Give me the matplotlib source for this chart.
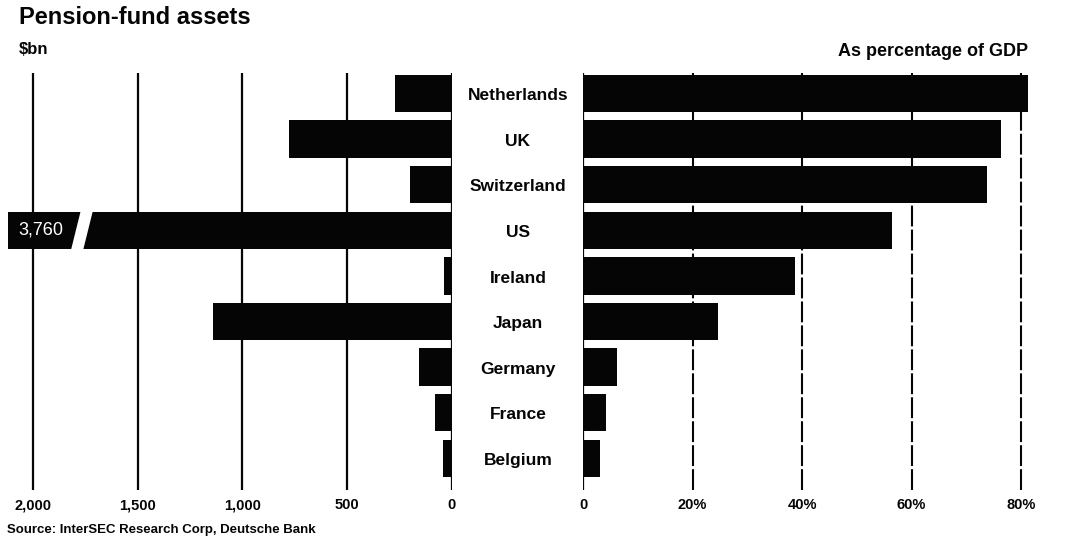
import matplotlib
matplotlib.use("Agg")
import matplotlib.pyplot as plt
from matplotlib.patches import Polygon
from matplotlib.transforms import blended_transform_factory

# Pension-fund assets by country
countries = ["Netherlands", "UK", "Switzerland", "US", "Ireland",
             "Japan", "Germany", "France", "Belgium"]
assets_bn = [272, 778, 200, 3760, 38, 1141, 158, 81, 43]          # $bn
pct_gdp = [81.3, 76.3, 73.8, 56.4, 38.7, 24.7, 6.3, 4.2, 3.1]      # % of GDP

left_ticks = [2000, 1500, 1000, 500, 0]
left_ticklabels = ["2,000", "1,500", "1,000", "500", "0"]
right_ticks = [0, 20, 40, 60, 80]
right_ticklabels = ["0", "20%", "40%", "60%", "80%"]

FONT = "Liberation Sans"
INK = "#050505"

fig = plt.figure(figsize=(10.77, 5.39), dpi=100)
fig.patch.set_facecolor("white")

W, H = 1077.0, 539.0
top_px, bot_px = 73.0, 490.0
axb = (H - bot_px) / H
axh = (bot_px - top_px) / H

axL = fig.add_axes([8 / W, axb, (452 - 8) / W, axh])
axR = fig.add_axes([583 / W, axb, (1040 - 583) / W, axh])

n = len(countries)
ypos = list(range(n))
ylim = (8.695, -0.45)
bar_h = 0.82

for ax in (axL, axR):
    ax.set_ylim(*ylim)
    ax.set_yticks([])
    for s in ax.spines.values():
        s.set_visible(False)
    ax.tick_params(axis="x", length=0, pad=6)
    ax.set_facecolor("none")

# Left panel: $bn, growing leftwards
axL.set_xlim(2119, 0)
for v in [500, 1000, 1500, 2000]:
    axL.axvline(v, color=INK, lw=1.6, zorder=1)
axL.axvline(0, color=INK, lw=1.6, zorder=1)
axL.barh(ypos, assets_bn, height=bar_h, color=INK, zorder=2)
axL.set_xticks(left_ticks)
axL.set_xticklabels(left_ticklabels, fontfamily=FONT, fontweight="bold",
                    fontsize=10.5, color=INK)

# Break in the US bar, with its value written on the cut-off end
us = countries.index("US")
cx, slope, hw, dy = 1766, 54, 29, 0.5
gap = Polygon([
    (cx - hw - slope * dy, us - dy), (cx + hw - slope * dy, us - dy),
    (cx + hw + slope * dy, us + dy), (cx - hw + slope * dy, us + dy)],
    closed=True, facecolor="white", edgecolor="none", zorder=3)
axL.add_patch(gap)
axL.text(1962, us, f"{assets_bn[us]:,}", color="white", fontsize=13,
         fontfamily=FONT, ha="center", va="center", zorder=4)

# Right panel: % of GDP
axR.set_xlim(0, 83.47)
for v in [20, 40, 60, 80]:
    axR.axvline(v, color=INK, lw=1.5, ls=(0, (10, 1.5)), zorder=1)
axR.axvline(0, color=INK, lw=1.6, zorder=1)
axR.barh(ypos, pct_gdp, height=bar_h, color=INK, zorder=2)
axR.set_xticks(right_ticks)
axR.set_xticklabels(right_ticklabels, fontfamily=FONT, fontweight="bold",
                    fontsize=10.5, color=INK)

# Country names between the two panels
trans = blended_transform_factory(fig.transFigure, axL.transData)
for i, name in enumerate(countries):
    fig.text(518 / W, i + 0.05, name, transform=trans, ha="center", va="center",
             fontfamily=FONT, fontweight="bold", fontsize=12.5, color=INK)

# Titles and notes
fig.text(19 / W, 1 - 17 / H, "Pension-fund assets", ha="left", va="center",
         fontfamily=FONT, fontweight="bold", fontsize=17, color=INK)
fig.text(19 / W, 1 - 49 / H, "$bn", ha="left", va="center",
         fontfamily=FONT, fontweight="bold", fontsize=12, color=INK)
fig.text(1028 / W, 1 - 52 / H, "As percentage of GDP", ha="right", va="center",
         fontfamily=FONT, fontweight="bold", fontsize=13, color=INK)
fig.text(7 / W, 1 - 530 / H, "Source: InterSEC Research Corp, Deutsche Bank",
         ha="left", va="center", fontfamily=FONT, fontweight="bold",
         fontsize=9.5, color=INK)

fig.savefig("out.png", dpi=100, facecolor="white")
